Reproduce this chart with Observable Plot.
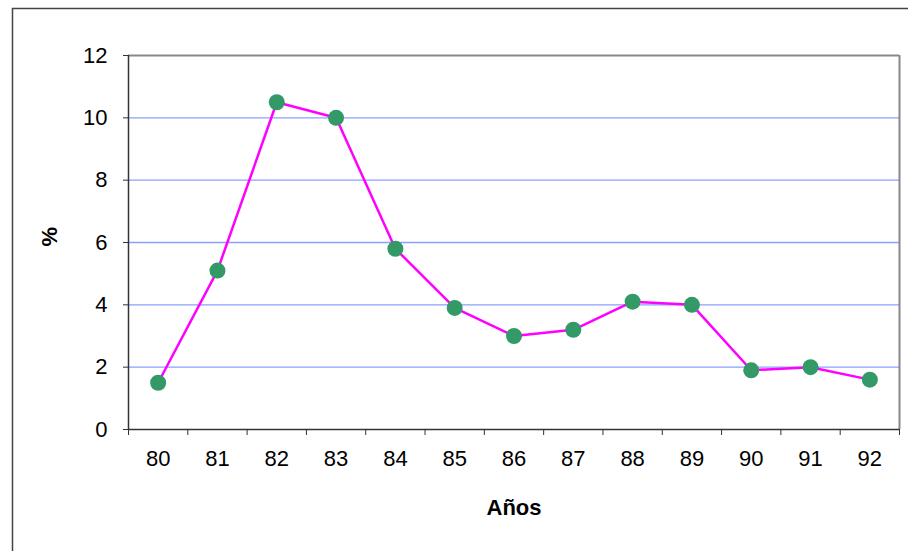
<!DOCTYPE html>
<html><head><meta charset="utf-8">
<script src="https://cdn.jsdelivr.net/npm/d3@7"></script>
<script src="https://cdn.jsdelivr.net/npm/@observablehq/plot@0.6"></script>
<style>
body{margin:0;background:#fff;}
#chart svg{font-family:"Liberation Sans",Arial,sans-serif;display:block;overflow:visible}
</style>
</head><body><div id="chart"></div>
<script>
const years = [80,81,82,83,84,85,86,87,88,89,90,91,92];
const values = [1.5,5.1,10.5,10.0,5.8,3.9,3.0,3.2,4.1,4.0,1.9,2.0,1.6];
const yTicks = [0,2,4,6,8,10,12];
const gridTicks = [2,4,6,8,10];
const xLabel = "Años";
const yLabel = "%";

const data = years.map((y,i)=>({year:y, value:values[i]}));
const bounds = d3.range(years[0]-0.5, years[years.length-1]+1, 1);

const chart = Plot.plot({
  width:908, height:551,
  marginLeft:128, marginTop:55, marginRight:9, marginBottom:122,
  style:{fontFamily:"Liberation Sans, Arial, sans-serif", fontSize:"22px", color:"#000", background:"#fff"},
  x:{type:"linear", domain:[79.5,92.5]},
  y:{domain:[0,12]},
  marks:[
    Plot.frame({insetTop:-47, insetLeft:-116, insetRight:-30, insetBottom:-200, stroke:"#444", strokeWidth:1.5}),
    Plot.gridY(gridTicks, {stroke:"#8aa0ff", strokeOpacity:1, strokeWidth:1.3}),
    Plot.ruleY([12], {stroke:"#888", strokeWidth:2}),
    Plot.ruleX([92.5], {stroke:"#888", strokeWidth:2}),
    Plot.ruleX([79.5], {stroke:"#333", strokeWidth:1.5}),
    Plot.ruleY([0], {stroke:"#333", strokeWidth:1.5}),
    Plot.axisY(yTicks, {tickSize:5, tickPadding:16, stroke:"#333", fontSize:22, label:null}),
    Plot.axisX(bounds, {tickSize:6, tickFormat:()=>"", stroke:"#333", label:null}),
    Plot.axisX(years, {tickSize:0, tickPadding:21, fontSize:22, label:null, tickFormat:d=>String(d)}),
    Plot.line(data, {x:"year", y:"value", stroke:"#ff00ff", strokeWidth:2.5}),
    Plot.dot(data, {x:"year", y:"value", r:8, fill:"#339966", stroke:"none"}),
    Plot.text([xLabel], {frameAnchor:"bottom", dy:85, fontWeight:"bold", fontSize:22}),
    Plot.text([yLabel], {frameAnchor:"left", dx:-79, dy:4, rotate:-90, fontWeight:"bold", fontSize:22})
  ]
});
document.getElementById("chart").appendChild(chart);
</script>
</body></html>
